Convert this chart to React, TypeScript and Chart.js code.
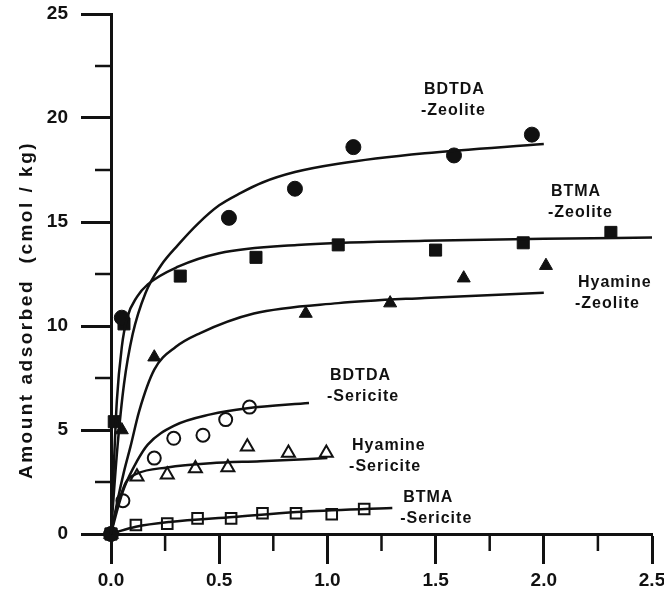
import React, { useEffect, useRef } from 'react';
import { Chart, registerables } from 'chart.js';

Chart.register(...registerables);

// ---- axis ticks ----
const xMajorTicks = [0, 0.5, 1.0, 1.5, 2.0, 2.5];
const xMinorTicks = [0.25, 0.75, 1.25, 1.75, 2.25];
const yMajorTicks = [0, 5, 10, 15, 20, 25];
const yMinorTicks = [2.5, 7.5, 12.5, 17.5, 22.5];
const yTitle = 'Amount adsorbed  (cmol / kg)';

// ---- measured points ----
const bdtdaZeoliteX = [0, 0.05, 0.545, 0.85, 1.12, 1.585, 1.945];
const bdtdaZeoliteY = [0, 10.4, 15.2, 16.6, 18.6, 18.2, 19.2];

const btmaZeoliteX = [0, 0.015, 0.06, 0.32, 0.67, 1.05, 1.5, 1.905, 2.31];
const btmaZeoliteY = [0, 5.4, 10.1, 12.4, 13.3, 13.9, 13.65, 14.0, 14.5];

const hyamineZeoliteX = [0, 0.05, 0.2, 0.9, 1.29, 1.63, 2.01];
const hyamineZeoliteY = [0, 5.0, 8.5, 10.6, 11.1, 12.3, 12.9];

const bdtdaSericiteX = [0, 0.055, 0.2, 0.29, 0.425, 0.53, 0.64];
const bdtdaSericiteY = [0, 1.6, 3.65, 4.6, 4.75, 5.5, 6.1];

const hyamineSericiteX = [0, 0.12, 0.26, 0.39, 0.54, 0.63, 0.82, 0.995];
const hyamineSericiteY = [0, 2.75, 2.85, 3.15, 3.2, 4.2, 3.9, 3.9];

const btmaSericiteX = [0, 0.115, 0.26, 0.4, 0.555, 0.7, 0.855, 1.02, 1.17];
const btmaSericiteY = [0, 0.43, 0.5, 0.75, 0.75, 1.0, 1.0, 0.95, 1.2];

// ---- fitted curves ----
const bdtdaZeoliteCurveX = [0, 0.01, 0.03, 0.06, 0.1, 0.16, 0.23, 0.31, 0.4, 0.5, 0.6, 0.7, 0.85, 1.05, 1.45, 2.0];
const bdtdaZeoliteCurveY = [0, 1.5, 4.2, 7.2, 9.6, 11.6, 12.9, 13.9, 14.9, 15.8, 16.4, 16.9, 17.4, 17.8, 18.3, 18.75];

const btmaZeoliteCurveX = [0, 0.01, 0.027, 0.05, 0.075, 0.12, 0.17, 0.31, 0.5, 0.86, 1.45, 2.0, 2.5];
const btmaZeoliteCurveY = [0, 2.5, 6.4, 9.0, 10.4, 11.4, 12.0, 12.85, 13.5, 13.9, 14.1, 14.2, 14.25];

const hyamineZeoliteCurveX = [0, 0.03, 0.06, 0.09, 0.13, 0.2, 0.3, 0.41, 0.66, 1.05, 1.45, 2.0];
const hyamineZeoliteCurveY = [0, 1.6, 3.0, 4.2, 5.9, 7.9, 9.0, 9.65, 10.6, 11.1, 11.35, 11.6];

const bdtdaSericiteCurveX = [0, 0.03, 0.06, 0.12, 0.17, 0.29, 0.46, 0.63, 0.915];
const bdtdaSericiteCurveY = [0, 1.2, 2.2, 3.5, 4.3, 5.2, 5.75, 6.05, 6.3];

const hyamineSericiteCurveX = [0, 0.02, 0.05, 0.07, 0.12, 0.26, 0.46, 0.69, 1.0];
const hyamineSericiteCurveY = [0, 1.0, 2.0, 2.5, 2.9, 3.2, 3.4, 3.5, 3.65];

const btmaSericiteCurveX = [0, 0.035, 0.115, 0.27, 0.565, 0.86, 1.3];
const btmaSericiteCurveY = [0, 0.12, 0.35, 0.58, 0.82, 1.06, 1.25];

// ---- curve labels ----
const labelLines = [
  ['BDTDA', '-Zeolite'],
  ['BTMA', '-Zeolite'],
  ['Hyamine', '-Zeolite'],
  ['BDTDA', '-Sericite'],
  ['Hyamine', '-Sericite'],
  ['BTMA', '-Sericite'],
];
const labelX = [1.446, 2.033, 2.158, 1.012, 1.114, 1.35];
const labelY = [21.35, 16.44, 12.1, 7.6, 4.23, 1.73];

const zip = (xs: number[], ys: number[]) => xs.map((x, i) => ({ x, y: ys[i] }));

const INK = '#111';
const FONT = '"Liberation Sans", Arial, sans-serif';

const decorPlugin = {
  id: 'decor',
  afterDraw(chart: any) {
    const { ctx, scales } = chart;
    const xs = scales.x;
    const ys = scales.y;
    ctx.save();
    // minor ticks
    ctx.strokeStyle = INK;
    ctx.lineWidth = 2.5;
    const bottom = ys.getPixelForValue(0);
    const left = xs.getPixelForValue(0);
    xMinorTicks.forEach((v) => {
      const px = xs.getPixelForValue(v);
      ctx.beginPath();
      ctx.moveTo(px, bottom);
      ctx.lineTo(px, bottom + 17);
      ctx.stroke();
    });
    yMinorTicks.forEach((v) => {
      const py = ys.getPixelForValue(v);
      ctx.beginPath();
      ctx.moveTo(left, py);
      ctx.lineTo(left - 16, py);
      ctx.stroke();
    });
    // labels
    ctx.fillStyle = INK;
    ctx.font = `bold 16px ${FONT}`;
    ctx.textAlign = 'left';
    ctx.textBaseline = 'middle';
    (ctx as any).letterSpacing = '1px';
    labelLines.forEach((lines, i) => {
      const px = xs.getPixelForValue(labelX[i]);
      const py = ys.getPixelForValue(labelY[i]);
      lines.forEach((t, j) => {
        ctx.fillText(t, px - (j > 0 ? 3 : 0), py + j * 21);
      });
    });
    // y title
    ctx.font = `bold 19px ${FONT}`;
    (ctx as any).letterSpacing = '2.5px';
    ctx.translate(27, 310);
    ctx.rotate(-Math.PI / 2);
    ctx.textAlign = 'center';
    ctx.fillText(yTitle, 0, 0);
    ctx.restore();
  },
};

export default function App() {
  const ref = useRef<HTMLCanvasElement | null>(null);
  useEffect(() => {
    if (!ref.current) return;
    const filled = (data: any[], style: string, radius: number) => ({
      type: 'scatter' as const,
      data,
      pointStyle: style,
      pointRadius: radius,
      pointBackgroundColor: INK,
      pointBorderColor: INK,
      pointBorderWidth: 1,
      showLine: false,
      clip: false as any,
    });
    const open = (data: any[], style: string, radius: number) => ({
      type: 'scatter' as const,
      data,
      pointStyle: style,
      pointRadius: radius,
      pointBackgroundColor: 'rgba(0,0,0,0)',
      pointBorderColor: INK,
      pointBorderWidth: 2,
      showLine: false,
      clip: false as any,
    });
    const curve = (data: any[]) => ({
      type: 'scatter' as const,
      data,
      showLine: true,
      borderColor: INK,
      borderWidth: 2.5,
      pointRadius: 0,
      cubicInterpolationMode: 'monotone' as const,
      clip: false as any,
    });
    const chart = new Chart(ref.current, {
      type: 'scatter',
      data: {
        datasets: [
          curve(zip(bdtdaZeoliteCurveX, bdtdaZeoliteCurveY)),
          curve(zip(btmaZeoliteCurveX, btmaZeoliteCurveY)),
          curve(zip(hyamineZeoliteCurveX, hyamineZeoliteCurveY)),
          curve(zip(bdtdaSericiteCurveX, bdtdaSericiteCurveY)),
          curve(zip(hyamineSericiteCurveX, hyamineSericiteCurveY)),
          curve(zip(btmaSericiteCurveX, btmaSericiteCurveY)),
          filled(zip(bdtdaZeoliteX, bdtdaZeoliteY), 'circle', 7.5),
          filled(zip(btmaZeoliteX, btmaZeoliteY), 'rect', 8.5),
          filled(zip(hyamineZeoliteX, hyamineZeoliteY), 'triangle', 7.5),
          open(zip(bdtdaSericiteX, bdtdaSericiteY), 'circle', 6.5),
          open(zip(hyamineSericiteX, hyamineSericiteY), 'triangle', 7.5),
          open(zip(btmaSericiteX, btmaSericiteY), 'rect', 7.5),
        ] as any,
      },
      options: {
        animation: false,
        responsive: false,
        events: [],
        layout: { padding: { top: 14, right: 12, left: 0, bottom: 0 } },
        plugins: { legend: { display: false }, tooltip: { enabled: false } },
        scales: {
          x: {
            type: 'linear',
            min: 0,
            max: 2.5,
            afterBuildTicks: (s: any) => {
              s.ticks = xMajorTicks.map((v) => ({ value: v }));
            },
            afterFit: (s: any) => {
              s.height = 64;
              s.paddingLeft = 0;
              s.paddingRight = 0;
            },
            border: { display: true, color: INK, width: 3 },
            grid: {
              display: true,
              drawOnChartArea: false,
              drawTicks: true,
              tickLength: 30,
              tickWidth: 3,
              tickColor: INK,
              color: INK,
            },
            ticks: {
              color: INK,
              font: { family: FONT, size: 19, weight: 'bold' },
              padding: 5,
              maxRotation: 0,
              callback: (v: any) => Number(v).toFixed(1),
            },
          },
          y: {
            type: 'linear',
            min: 0,
            max: 25,
            afterBuildTicks: (s: any) => {
              s.ticks = yMajorTicks.map((v) => ({ value: v }));
            },
            afterFit: (s: any) => {
              s.width = 111;
              s.paddingTop = 0;
              s.paddingBottom = 0;
            },
            border: { display: true, color: INK, width: 3 },
            grid: {
              display: true,
              drawOnChartArea: false,
              drawTicks: true,
              tickLength: 30,
              tickWidth: 3,
              tickColor: INK,
              color: INK,
            },
            ticks: {
              color: INK,
              font: { family: FONT, size: 19, weight: 'bold' },
              padding: 13,
              callback: (v: any) => String(v),
            },
          },
        },
      } as any,
      plugins: [decorPlugin],
    });
    return () => chart.destroy();
  }, []);
  return (
    <div style={{ position: 'fixed', left: 0, top: 0, width: 664, height: 598, background: '#fff' }}>
      <canvas ref={ref} width={664} height={598} />
    </div>
  );
}
